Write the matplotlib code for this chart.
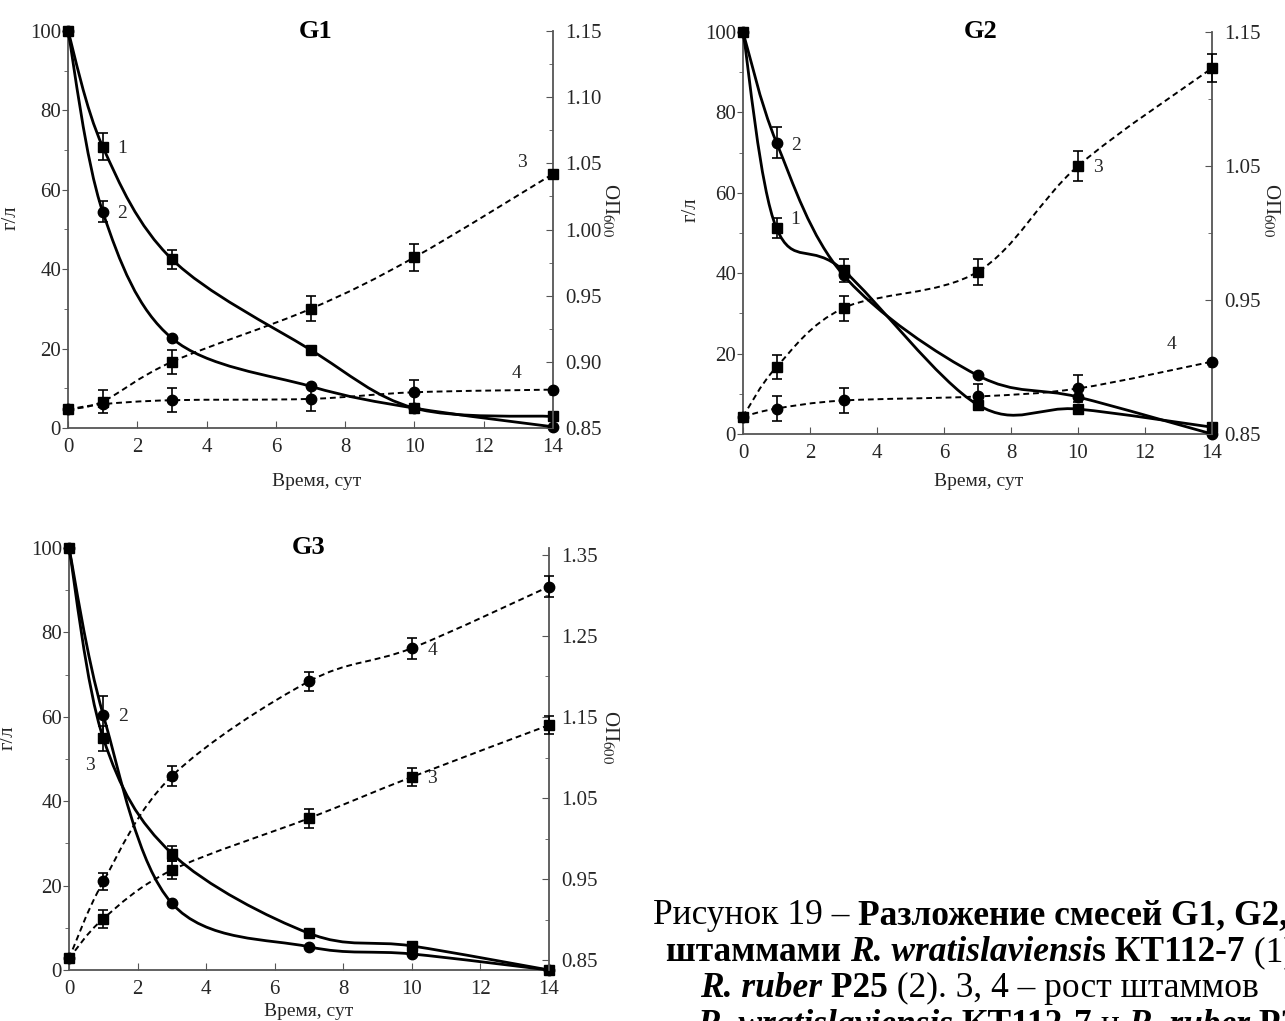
import matplotlib
matplotlib.use("Agg")
import matplotlib.pyplot as plt
import numpy as np
from matplotlib.path import Path
from matplotlib.patches import PathPatch
from matplotlib.ticker import MultipleLocator

plt.rcParams["font.family"] = ["Liberation Serif", "DejaVu Serif"]
plt.rcParams["mathtext.fontset"] = "stix"

# time points, days
days = [0, 1, 3, 7, 10, 14]

# G1: substrate (g/l, left axis) and growth (OD600, right axis)
g1_s1 = [100, 70.9, 42.5, 19.7, 5.0, 2.9]
g1_s1_err = [0, 3.4, 2.4, 0, 0, 0]
g1_s2 = [100, 54.5, 22.6, 10.5, 5.0, 0.3]
g1_s2_err = [0, 2.7, 0, 0, 0, 0]
g1_s3 = [0.864, 0.870, 0.900, 0.940, 0.979, 1.042]
g1_s3_err = [0, 0.009, 0.009, 0.0095, 0.010, 0]
g1_s4 = [0.864, 0.868, 0.871, 0.872, 0.877, 0.879]
g1_s4_err = [0, 0, 0.009, 0.009, 0.009, 0]

# G2
g2_s1 = [100, 51.2, 40.7, 7.3, 6.2, 1.7]
g2_s1_err = [0, 2.5, 2.8, 0, 0, 0]
g2_s2 = [100, 72.5, 39.5, 14.6, 9.2, 0]
g2_s2_err = [0, 3.8, 0, 0, 0, 0]
g2_s3 = [0.863, 0.900, 0.944, 0.971, 1.050, 1.123]
g2_s3_err = [0, 0.0093, 0.0093, 0.0098, 0.011, 0.0105]
g2_s4 = [0.863, 0.869, 0.875, 0.878, 0.884, 0.904]
g2_s4_err = [0, 0.0093, 0.009, 0.009, 0.010, 0]

# G3
g3_s1 = [100, 54.9, 27.6, 8.7, 5.7, 0]
g3_s1_err = [0, 3.0, 1.8, 0, 0, 0]
g3_s2 = [100, 60.4, 15.8, 5.5, 3.8, 0]
g3_s2_err = [0, 4.5, 0, 0, 0, 0]
g3_s3 = [0.852, 0.901, 0.961, 1.025, 1.076, 1.140]
g3_s3_err = [0, 0.011, 0.011, 0.012, 0.011, 0.011]
g3_s4 = [0.852, 0.947, 1.077, 1.194, 1.235, 1.311]
g3_s4_err = [0, 0.011, 0.012, 0.012, 0.013, 0.013]

# right-axis tick labels
g1_od_ticks = ["0.85", "0.90", "0.95", "1.00", "1.05", "1.10", "1.15"]
g2_od_ticks = ["0.85", "0.95", "1.05", "1.15"]
g3_od_ticks = ["0.85", "0.95", "1.05", "1.15", "1.25", "1.35"]

W, H = 1285, 1021
SPINE = "#555555"
TXT = "#262626"


def px_rect(left, top, right, bottom):
    return [left / W, 1 - bottom / H, (right - left) / W, (bottom - top) / H]


def smooth_path(x, y):
    # Excel-style smoothed line: cubic Bezier through every point
    pts = np.column_stack([x, y]).astype(float)
    n = len(pts)
    verts = [pts[0]]
    codes = [Path.MOVETO]
    for i in range(n - 1):
        p_prev = pts[max(i - 1, 0)]
        p_next = pts[min(i + 2, n - 1)]
        verts.append(pts[i] + (pts[i + 1] - p_prev) / 6)
        verts.append(pts[i + 1] - (p_next - pts[i]) / 6)
        verts.append(pts[i + 1])
        codes += [Path.CURVE4] * 3
    return Path(verts, codes)


def draw_series(ax, y, err, marker, dashed):
    ls = (0, (3, 2)) if dashed else "-"
    lw = 1.4 if dashed else 2.0
    ax.add_patch(PathPatch(smooth_path(days, y), fill=False, ec="black",
                           lw=lw, ls=ls, clip_on=False, zorder=3))
    ax.errorbar(days, y, yerr=err, fmt=marker, ms=7 if marker == "s" else 7.5,
                color="black", ecolor="black", elinewidth=1.2, capsize=3.5,
                capthick=1.2, clip_on=False, zorder=4)


def plot_panel(fig, rect, title, left, right, od_lim, od_ticks, numbers, pos):
    ax = fig.add_axes(rect)
    ax2 = ax.twinx()

    draw_series(ax, left[0], left[1], "s", False)
    draw_series(ax, left[2], left[3], "o", False)
    draw_series(ax2, right[0], right[1], "s", True)
    draw_series(ax2, right[2], right[3], "o", True)

    ax.set_xlim(0, 14)
    ax.set_ylim(0, 100)
    ax.xaxis.set_major_locator(MultipleLocator(2))
    ax.yaxis.set_major_locator(MultipleLocator(20))
    ax.yaxis.set_minor_locator(MultipleLocator(10))

    major = [float(t) for t in od_ticks]
    step = major[1] - major[0]
    minor = [t + step / 2 for t in major[:-1]]
    ax2.set_yticks(major, od_ticks)
    ax2.set_yticks(minor, minor=True)
    ax2.set_ylim(*od_lim)

    for a in (ax, ax2):
        a.spines["top"].set_visible(False)
        for s in a.spines.values():
            s.set_color(SPINE)
            s.set_linewidth(1.3)
    ax.spines["right"].set_visible(False)
    ax2.spines["left"].set_visible(False)
    ax2.spines["bottom"].set_visible(False)

    ax.tick_params(axis="x", direction="in", length=5, color=SPINE,
                   labelsize=15, labelcolor=TXT, pad=7)
    ax.tick_params(axis="y", which="major", direction="out", length=4,
                   color=SPINE, labelsize=15, labelcolor=TXT, pad=1)
    ax.tick_params(axis="y", which="minor", direction="out", length=3, color=SPINE)
    ax2.tick_params(axis="y", which="major", direction="in", length=5,
                    color=SPINE, labelsize=15, labelcolor=TXT, pad=9)
    ax2.tick_params(axis="y", which="minor", direction="in", length=3, color=SPINE)

    ax.text(pos["title"][0], pos["title"][1], title, transform=ax.transAxes,
            ha="center", va="center", fontsize=19, fontweight="bold")
    ax.set_ylabel("г/л", fontsize=15, color=TXT)
    ax.yaxis.set_label_coords(*pos["ylab"])
    ax.set_xlabel("Время, сут", fontsize=14, color=TXT)
    ax.xaxis.set_label_coords(*pos["xlab"])
    ax2.set_ylabel("ОП$_{600}$", fontsize=15, color=TXT, rotation=270,
                   va="center")
    ax2.yaxis.set_label_coords(*pos["odlab"])

    for txt, x, y in numbers:
        ax.text(x, y, txt, fontsize=14, color=TXT, ha="center", va="center",
                zorder=5)
    return ax


def caption_line(cax, x, y, parts, size=25.5):
    styles = {
        "n": dict(fontweight="normal", fontstyle="normal"),
        "b": dict(fontweight="bold", fontstyle="normal"),
        "bi": dict(fontweight="bold", fontstyle="italic"),
    }
    prev = None
    for text, st in parts:
        if prev is None:
            prev = cax.text(x / W, 1 - y / H, text, fontsize=size,
                            va="baseline", ha="left", transform=cax.transAxes,
                            **styles[st])
        else:
            prev = cax.annotate(text, xy=(1, 0), xycoords=prev, va="bottom",
                                ha="left", fontsize=size, **styles[st])


def main():
    fig = plt.figure(figsize=(W / 100, H / 100), dpi=100)

    plot_panel(fig, px_rect(68, 31, 553, 428), "G1",
               (g1_s1, g1_s1_err, g1_s2, g1_s2_err),
               (g1_s3, g1_s3_err, g1_s4, g1_s4_err),
               (0.85, 1.15), g1_od_ticks,
               [("1", 1.55, 70.5), ("2", 1.55, 54), ("3", 13.1, 67),
                ("4", 12.95, 13.8)],
               dict(title=(0.51, 1.0), ylab=(-0.098, 0.53),
                    xlab=(0.512, -0.113), odlab=(1.118, 0.55)))

    plot_panel(fig, px_rect(743, 32, 1212, 434), "G2",
               (g2_s1, g2_s1_err, g2_s2, g2_s2_err),
               (g2_s3, g2_s3_err, g2_s4, g2_s4_err),
               (0.85, 1.15), g2_od_ticks,
               [("2", 1.57, 71.8), ("1", 1.57, 53.3), ("3", 10.6, 66.2),
                ("4", 12.8, 22.2)],
               dict(title=(0.507, 1.0), ylab=(-0.09, 0.557),
                    xlab=(0.503, -0.097), odlab=(1.126, 0.557)))

    plot_panel(fig, px_rect(69, 548, 549, 970), "G3",
               (g3_s1, g3_s1_err, g3_s2, g3_s2_err),
               (g3_s3, g3_s3_err, g3_s4, g3_s4_err),
               (0.8377, 1.3586), g3_od_ticks,
               [("2", 1.58, 60), ("3", 0.6, 48.5), ("4", 10.6, 75.8),
                ("3", 10.6, 45.4)],
               dict(title=(0.50, 1.0), ylab=(-0.108, 0.55),
                    xlab=(0.5, -0.079), odlab=(1.127, 0.552)))

    cax = fig.add_axes([0, 0, 1, 1], zorder=-1)
    cax.axis("off")
    caption_line(cax, 653, 924, [("Рисунок 19 – ", "n"),
                                 ("Разложение смесей G1, G2, G3", "b")])
    caption_line(cax, 666, 961, [("штаммами ", "b"), ("R. wratislaviensi", "bi"),
                                 ("s КТ112-7", "b"), (" (1) и", "n")])
    caption_line(cax, 700, 997, [("R. ruber", "bi"), (" Р25", "b"),
                                 (" (2). 3, 4 – рост штаммов", "n")])
    caption_line(cax, 697, 1034, [("R. wratislaviensis", "bi"), (" КТ112-7", "b"),
                                  (" и ", "n"), ("R. ruber", "bi"), (" Р25", "b")])

    fig.savefig("out.png", dpi=100)
    plt.close(fig)


if __name__ == "__main__":
    main()
